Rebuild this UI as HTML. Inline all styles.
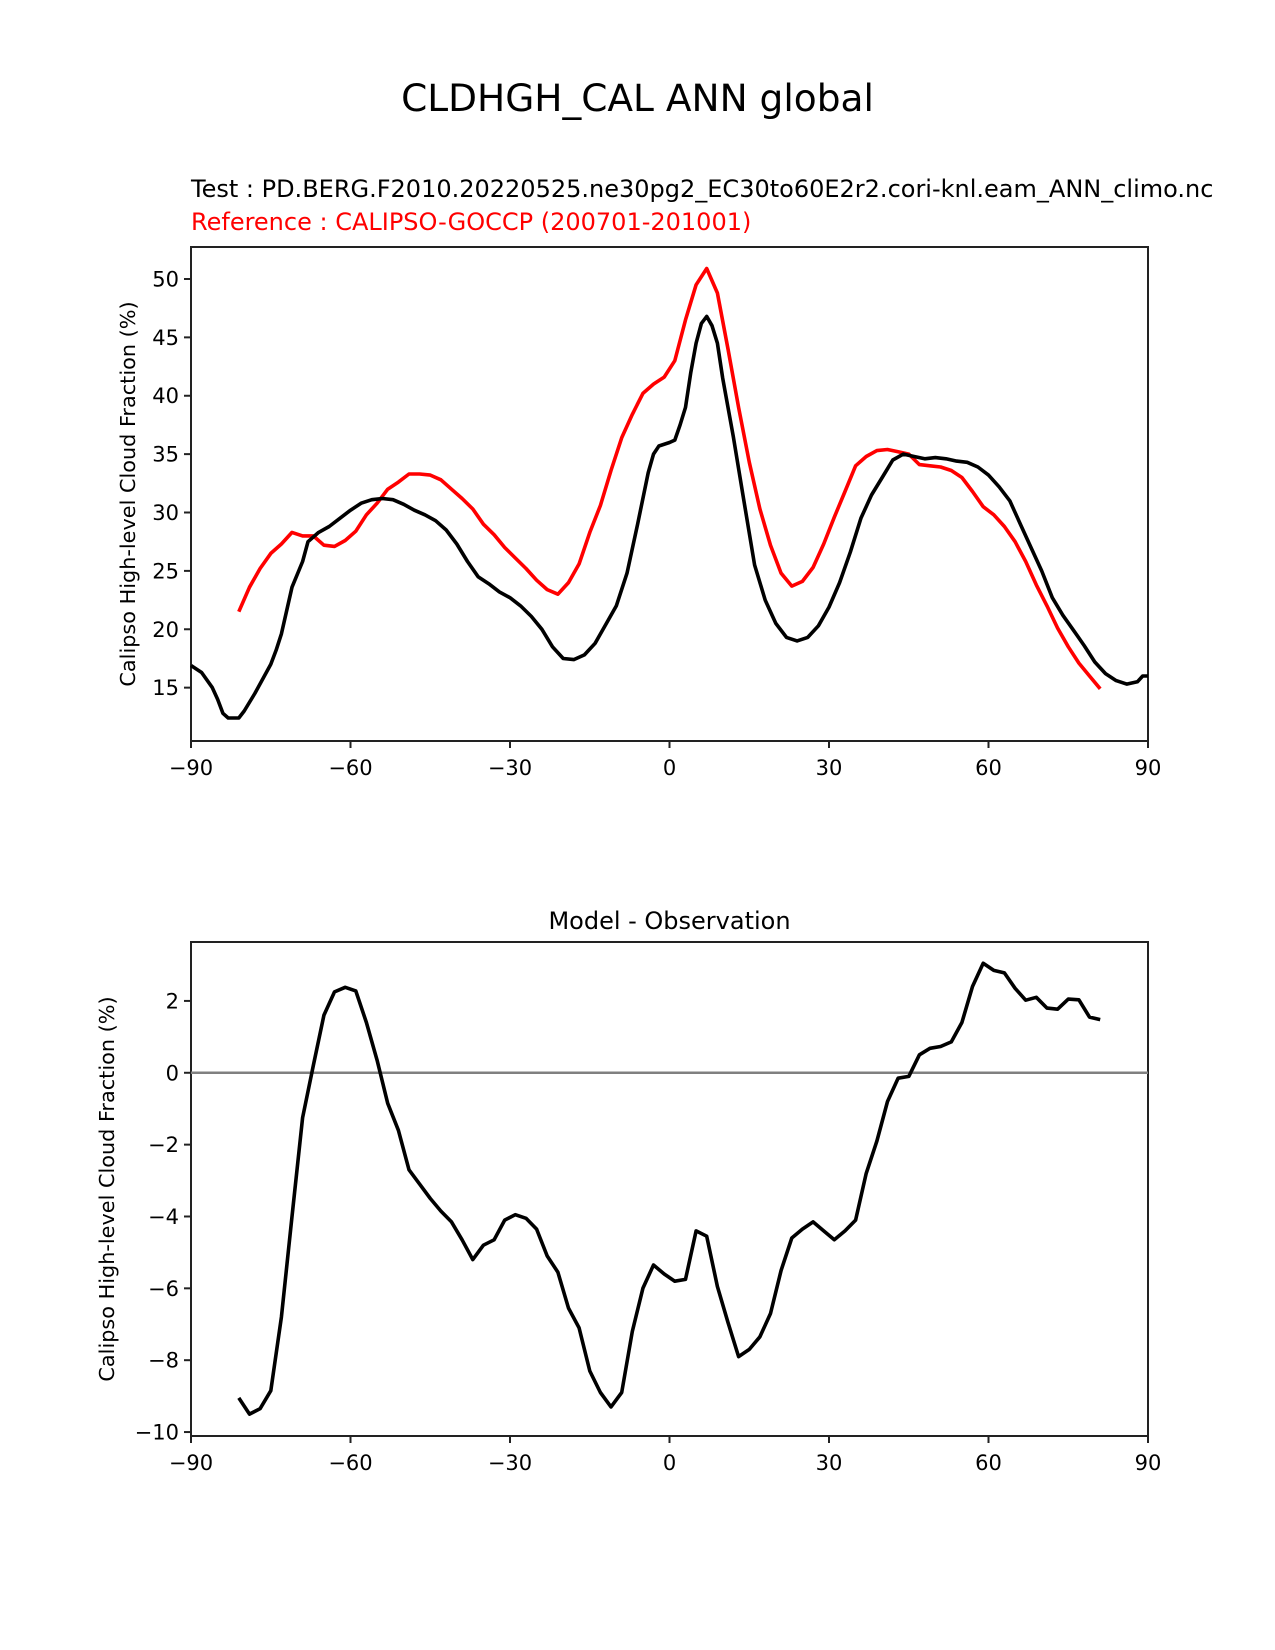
<!DOCTYPE html>
<html><head><meta charset="utf-8"><style>body{margin:0;background:#fff}svg{display:block;font-family:"DejaVu Sans","Liberation Sans",sans-serif}</style></head>
<body>
<svg id="fig" width="1275" height="1650" viewBox="0 0 1275 1650" xmlns="http://www.w3.org/2000/svg">
<rect width="1275" height="1650" fill="#fff"/>
<text x="637.5" y="111" font-size="37.5" text-anchor="middle">CLDHGH_CAL ANN global</text>
<text x="191" y="197" font-size="24">Test : PD.BERG.F2010.20220525.ne30pg2_EC30to60E2r2.cori-knl.eam_ANN_climo.nc</text>
<text x="191" y="230" font-size="24" fill="#ff0000">Reference : CALIPSO-GOCCP (200701-201001)</text>
<text x="669.5" y="929" font-size="24" text-anchor="middle">Model - Observation</text>
<g id="top"></g>
<g id="bot"></g>
</svg>
<script>
const latTest = [-90,-88,-86,-85,-84,-83,-81,-80,-78,-75,-74,-73,-71,-69,-68,-66,-64,-62,-60,-58,-56,-54,-52,-50,-48,-46,-44,-42,-40,-38,-36,-34,-32,-30,-28,-26,-24,-22,-20,-18,-16,-14,-12,-10,-8,-6,-4,-3,-2,0,1,2,3,4,5,6,7,8,9,10,12,14,16,18,20,22,24,26,28,30,32,34,36,38,40,42,44,46,48,50,52,54,56,58,60,62,64,66,68,70,72,74,76,78,80,82,84,86,88,89,90];
const valTest = [16.9,16.3,15,14,12.8,12.4,12.4,13,14.5,17,18.2,19.6,23.6,25.8,27.5,28.3,28.8,29.5,30.2,30.8,31.1,31.2,31.1,30.7,30.2,29.8,29.3,28.5,27.3,25.8,24.5,23.9,23.2,22.7,22,21.1,20,18.5,17.5,17.4,17.8,18.8,20.4,22,24.8,29,33.4,35,35.7,36,36.2,37.5,39,42,44.5,46.2,46.8,46,44.5,41.5,36.5,31,25.5,22.5,20.5,19.3,19,19.3,20.3,21.9,24,26.6,29.5,31.5,33,34.5,35,34.8,34.6,34.7,34.6,34.4,34.3,33.9,33.2,32.2,31,29,27,25,22.7,21.2,19.9,18.6,17.2,16.2,15.6,15.3,15.5,16,16];
const latRef = [-81,-79,-77,-75,-73,-71,-69,-67,-65,-63,-61,-59,-57,-55,-53,-51,-49,-47,-45,-43,-41,-39,-37,-35,-33,-31,-29,-27,-25,-23,-21,-19,-17,-15,-13,-11,-9,-7,-5,-3,-1,1,3,5,7,9,11,13,15,17,19,21,23,25,27,29,31,33,35,37,39,41,43,45,47,49,51,53,55,57,59,61,63,65,67,69,71,73,75,77,79,81];
const valRef = [21.5,23.6,25.2,26.5,27.3,28.3,28,28,27.2,27.1,27.6,28.4,29.8,30.8,32,32.6,33.3,33.3,33.2,32.8,32,31.2,30.3,29,28.1,27,26.1,25.2,24.2,23.4,23,24,25.6,28.3,30.6,33.6,36.4,38.4,40.2,41,41.6,43,46.5,49.5,50.9,48.8,44,39,34.3,30.3,27.2,24.8,23.7,24.1,25.3,27.3,29.6,31.8,34,34.8,35.3,35.4,35.2,35,34.1,34,33.9,33.6,33,31.8,30.5,29.8,28.8,27.5,25.8,23.8,22,20.1,18.5,17.1,16,14.9];
const valDiff = [-9.05,-9.5,-9.35,-8.85,-6.8,-4,-1.25,0.2,1.6,2.25,2.38,2.28,1.4,0.35,-0.85,-1.6,-2.7,-3.1,-3.5,-3.85,-4.15,-4.65,-5.2,-4.8,-4.65,-4.1,-3.95,-4.05,-4.35,-5.1,-5.55,-6.55,-7.1,-8.3,-8.9,-9.3,-8.9,-7.2,-6,-5.35,-5.6,-5.8,-5.75,-4.4,-4.55,-5.95,-6.95,-7.9,-7.7,-7.35,-6.7,-5.5,-4.6,-4.35,-4.15,-4.4,-4.65,-4.4,-4.1,-2.8,-1.9,-0.8,-0.15,-0.1,0.5,0.68,0.73,0.86,1.4,2.4,3.05,2.85,2.78,2.35,2.02,2.1,1.8,1.77,2.05,2.03,1.55,1.48];
const xTicks = [-90,-60,-30,0,30,60,90];
const xTickLabels = ["\u221290","\u221260","\u221230","0","30","60","90"];
const yTicksTop = [15,20,25,30,35,40,45,50];
const yTicksBot = [-10,-8,-6,-4,-2,0,2];

const NS="http://www.w3.org/2000/svg";
function mk(parent,tag,attrs,text){const e=document.createElementNS(NS,tag);for(const k in attrs)e.setAttribute(k,attrs[k]);if(text!==undefined)e.textContent=text;parent.appendChild(e);return e;}
const L=191,R=1148;
const xs=v=>L+(v+90)/180*(R-L);
function axes(g,T,B,ymin,ymax,yt,ylab,ylx){
  const ys=v=>B-(v-ymin)/(ymax-ymin)*(B-T);
  const fr=mk(g,'rect',{x:L,y:T,width:R-L,height:B-T,fill:'none',stroke:'#222','stroke-width':2});
  
  
  xTicks.forEach((t,i)=>{
    const l=mk(g,'line',{x1:xs(t),x2:xs(t),y1:B,y2:B+7,stroke:'#222','stroke-width':2});
    
    
    const tx=mk(g,'text',{x:xs(t),y:B+34,'font-size':21,'text-anchor':'middle'},xTickLabels[i]);
    
    
  });
  yt.forEach(t=>{
    const l=mk(g,'line',{x1:L-7,x2:L,y1:ys(t),y2:ys(t),stroke:'#222','stroke-width':2});
    
    
    const tx=mk(g,'text',{x:L-12,y:ys(t)+7.5,'font-size':21,'text-anchor':'end'},String(t).replace('-','\u2212'));
    
    
  });
  const cy=(T+B)/2;
  const yl=mk(g,'text',{x:ylx,y:cy,'font-size':20.8,'text-anchor':'middle',transform:`rotate(-90 ${ylx} ${cy})`},ylab);
  
  
  return ys;
}
function line(g,xsA,ysA,ys,color,w,name){
  const d=xsA.map((x,i)=>(i?'L':'M')+xs(x).toFixed(1)+' '+ys(ysA[i]).toFixed(1)).join(' ');
  const p=mk(g,'path',{d:d,fill:'none',stroke:color,'stroke-width':w,'stroke-linejoin':'round'});
  
  
}
const gt=document.getElementById('top');
const ysT=axes(gt,247,741,10.43,52.74,yTicksTop,'Calipso High-level Cloud Fraction (%)',135);
line(gt,latRef,valRef,ysT,'#ff0000',3.6,'reference-line');
line(gt,latTest,valTest,ysT,'#000',3.6,'test-line');
const gb=document.getElementById('bot');
const ysB=axes(gb,942,1436,-10.11,3.64,yTicksBot,'Calipso High-level Cloud Fraction (%)',114);
const z=mk(gb,'line',{x1:L,x2:R,y1:ysB(0),y2:ysB(0),stroke:'#808080','stroke-width':2.5});


line(gb,latRef,valDiff,ysB,'#000',3.6,'difference-line');
</script>
</body></html>
